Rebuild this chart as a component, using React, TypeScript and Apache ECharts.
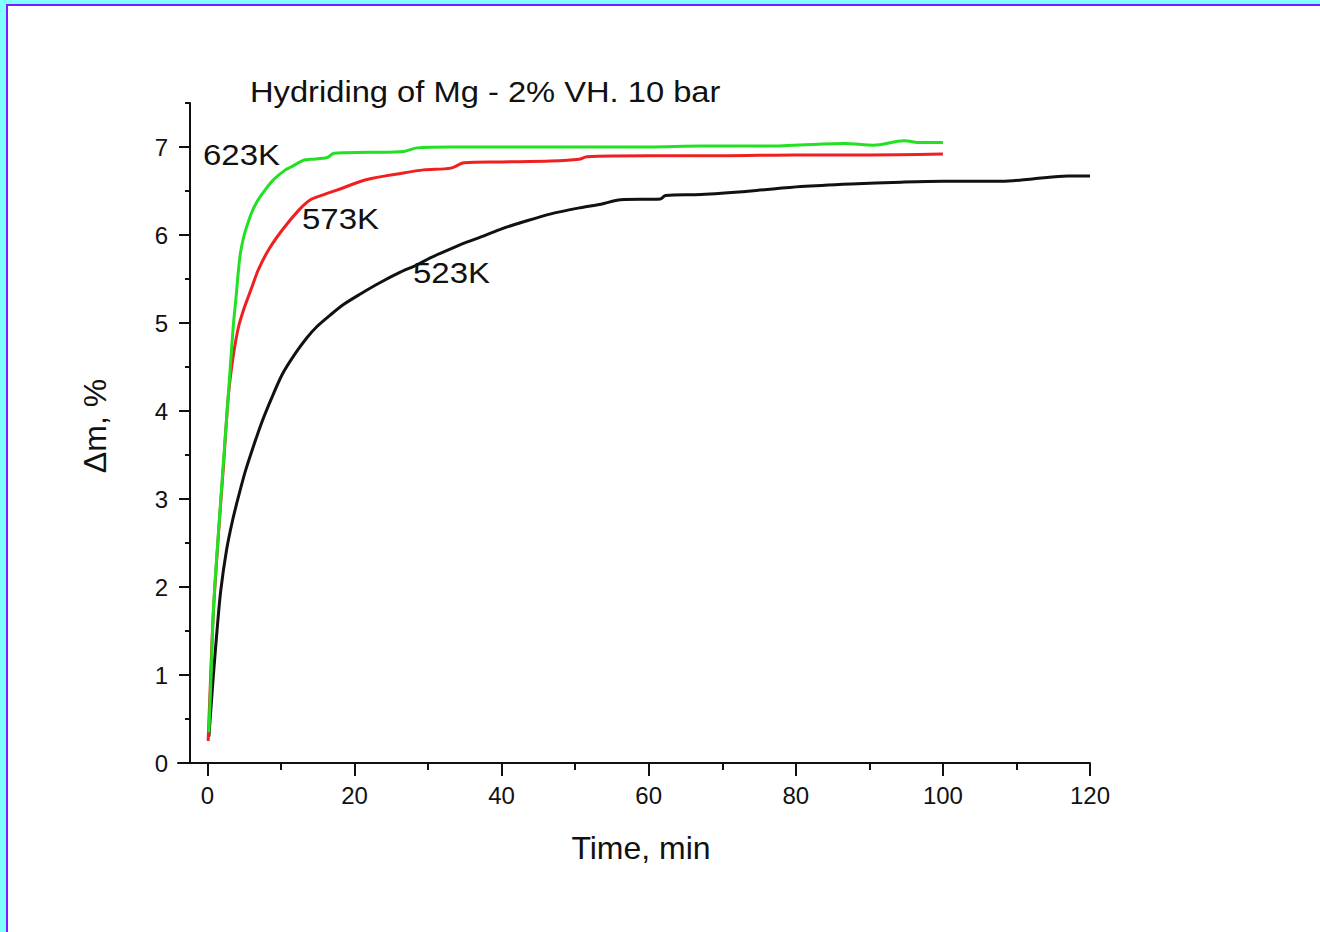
import React, { useEffect, useRef } from "react";
import * as echarts from "echarts";

const TITLE = "Hydriding of Mg - 2% VH. 10 bar";
const X_NAME = "Time, min";
const Y_NAME = "Δm, %";

const X_MIN = -4;
const X_MAX = 120;
const Y_MIN = 0;
const Y_MAX = 7.5;
const X_TICKS = [0, 20, 40, 60, 80, 100, 120];
const X_MINOR = [10, 30, 50, 70, 90, 110];
const Y_TICKS = [0, 1, 2, 3, 4, 5, 6, 7];
const Y_MINOR = [0.5, 1.5, 2.5, 3.5, 4.5, 5.5, 6.5, 7.5];

const SERIES_NAMES = ["523K", "573K", "623K"];

// 523K (black)
const t523 = [0.2, 0.5, 0.86, 1.3, 1.8, 2.6, 3.4, 4.2, 5.1, 6.1, 7.3, 8.6, 10.2, 12.0, 13.5, 14.9, 16.7, 18.5, 20.8, 23.5, 26.3, 28.5, 30.3, 33, 35, 37.6, 40, 43, 46.7, 50.7, 53.5, 56.2, 61.6, 62.3, 67.1, 73.9, 80.7, 87.5, 94.3, 100, 108, 112.4, 117, 120];
const v523 = [0.3, 0.65, 1.05, 1.5, 1.95, 2.42, 2.75, 3.02, 3.3, 3.56, 3.85, 4.12, 4.42, 4.66, 4.83, 4.96, 5.09, 5.21, 5.33, 5.46, 5.58, 5.66, 5.74, 5.84, 5.91, 5.99, 6.07, 6.15, 6.24, 6.31, 6.35, 6.4, 6.41, 6.45, 6.46, 6.5, 6.55, 6.58, 6.6, 6.61, 6.61, 6.64, 6.67, 6.67];

// 573K (red)
const t573 = [0.1, 0.4, 0.8, 1.5, 2.2, 2.68, 3.0, 3.5, 3.9, 4.3, 4.8, 5.3, 6.1, 6.9, 8.3, 10.2, 12.4, 14.0, 15.5, 17.6, 21.7, 26.3, 29.4, 33.1, 34.9, 40, 46.7, 50.5, 51.6, 60, 70, 80, 90, 100];
const v573 = [0.25, 0.9, 1.7, 2.6, 3.4, 4.0, 4.3, 4.62, 4.82, 4.98, 5.12, 5.24, 5.42, 5.6, 5.83, 6.06, 6.28, 6.4, 6.45, 6.51, 6.63, 6.7, 6.74, 6.76, 6.82, 6.83, 6.84, 6.86, 6.89, 6.9, 6.9, 6.91, 6.91, 6.92];

// 623K (green)
const t623 = [0.2, 0.5, 0.85, 1.5, 2.2, 2.9, 3.5, 3.9, 4.2, 4.5, 5.0, 5.6, 6.2, 6.9, 8.0, 9.0, 10.6, 11.3, 13.1, 14.0, 16.3, 17.2, 22, 26.7, 28.5, 33.1, 40, 49.4, 60, 67.1, 76.2, 86.6, 90.6, 94.7, 97, 100];
const v623 = [0.35, 1.0, 1.8, 2.62, 3.45, 4.25, 4.95, 5.3, 5.58, 5.8, 6.0, 6.16, 6.29, 6.4, 6.53, 6.63, 6.74, 6.77, 6.85, 6.86, 6.88, 6.93, 6.94, 6.95, 6.99, 7.0, 7.0, 7.0, 7.0, 7.01, 7.01, 7.04, 7.02, 7.07, 7.05, 7.05];

const COLORS = ["#111111", "#ee2020", "#22e022"];
const FONT = '"Liberation Sans", Arial, Helvetica, sans-serif';

const zip = (t: number[], v: number[]) => t.map((x, i) => [x, v[i]]);

export default function App() {
  const ref = useRef<HTMLDivElement>(null);

  useEffect(() => {
    if (!ref.current) return;
    const chart = echarts.init(ref.current, undefined, { renderer: "svg" });
    const axisColor = "#111";
    const grid = { left: 178, right: 230, top: 103, bottom: 169 };
    const datasets = [zip(t523, v523), zip(t573, v573), zip(t623, v623)];

    chart.setOption({
      animation: false,
      backgroundColor: "transparent",
      grid,
      xAxis: [
        {
          type: "value",
          min: X_MIN,
          max: X_MAX,
          axisLine: { show: true, onZero: false, lineStyle: { color: axisColor, width: 2 } },
          axisTick: { show: true, customValues: X_TICKS, length: 13, lineStyle: { color: axisColor, width: 2 } },
          axisLabel: { customValues: X_TICKS, margin: 20, color: "#111", fontSize: 24, fontFamily: FONT },
          splitLine: { show: false },
          name: X_NAME,
          nameLocation: "middle",
          nameGap: 85,
          nameTextStyle: { fontSize: 32, fontFamily: FONT, color: "#111", verticalAlign: "middle", padding: [0, 0, 0, 14] },
        },
        {
          type: "value",
          min: X_MIN,
          max: X_MAX,
          position: "bottom",
          axisLine: { show: false, onZero: false },
          axisTick: { show: true, customValues: X_MINOR, length: 7, lineStyle: { color: axisColor, width: 2 } },
          axisLabel: { show: false },
          splitLine: { show: false },
        },
      ],
      yAxis: [
        {
          type: "value",
          min: Y_MIN,
          max: Y_MAX,
          offset: -12,
          axisLine: { show: true, onZero: false, lineStyle: { color: axisColor, width: 2 } },
          axisTick: { show: true, customValues: Y_TICKS, length: 11, lineStyle: { color: axisColor, width: 2 } },
          axisLabel: { customValues: Y_TICKS, margin: 22, color: "#111", fontSize: 24, fontFamily: FONT },
          splitLine: { show: false },
          name: Y_NAME,
          nameLocation: "middle",
          nameGap: 95,
          nameRotate: 90,
          nameTextStyle: { fontSize: 32, fontFamily: FONT, color: "#111", verticalAlign: "middle", padding: [0, 0, 0, 14] },
        },
        {
          type: "value",
          min: Y_MIN,
          max: Y_MAX,
          position: "left",
          offset: -12,
          axisLine: { show: false, onZero: false },
          axisTick: { show: true, customValues: Y_MINOR, length: 5, lineStyle: { color: axisColor, width: 2 } },
          axisLabel: { show: false },
          splitLine: { show: false },
        },
      ],
      series: datasets.map((d, i) => ({
        name: SERIES_NAMES[i],
        type: "line",
        data: d,
        showSymbol: false,
        symbol: "none",
        smooth: 0.3,
        lineStyle: { color: COLORS[i], width: 3 },
        z: 2 + i,
      })),
      graphic: [
        { type: "text", x: 250, y: 92, scaleX: 1.09, style: { text: TITLE, font: `30px ${FONT}`, fill: "#111", verticalAlign: "middle" } },
        { type: "text", x: 203, y: 155, scaleX: 1.1, style: { text: SERIES_NAMES[2], font: `30px ${FONT}`, fill: "#111", verticalAlign: "middle" } },
        { type: "text", x: 302, y: 219, scaleX: 1.1, style: { text: SERIES_NAMES[1], font: `30px ${FONT}`, fill: "#111", verticalAlign: "middle" } },
        { type: "text", x: 413, y: 273, scaleX: 1.1, style: { text: SERIES_NAMES[0], font: `30px ${FONT}`, fill: "#111", verticalAlign: "middle" } },
      ],
    });
    return () => chart.dispose();
  }, []);

  return (
    <div style={{ position: "fixed", left: 0, top: 0, width: 1320, height: 932, background: "#80ffff", overflow: "hidden" }}>
      <div
        style={{
          position: "absolute",
          left: 6,
          top: 4,
          right: 0,
          bottom: 0,
          background: "#ffffff",
          borderLeft: "2px solid #7a1cff",
          borderTop: "2px solid #7a1cff",
        }}
      />
      <div ref={ref} style={{ position: "absolute", left: 0, top: 0, width: 1320, height: 932 }} />
    </div>
  );
}
